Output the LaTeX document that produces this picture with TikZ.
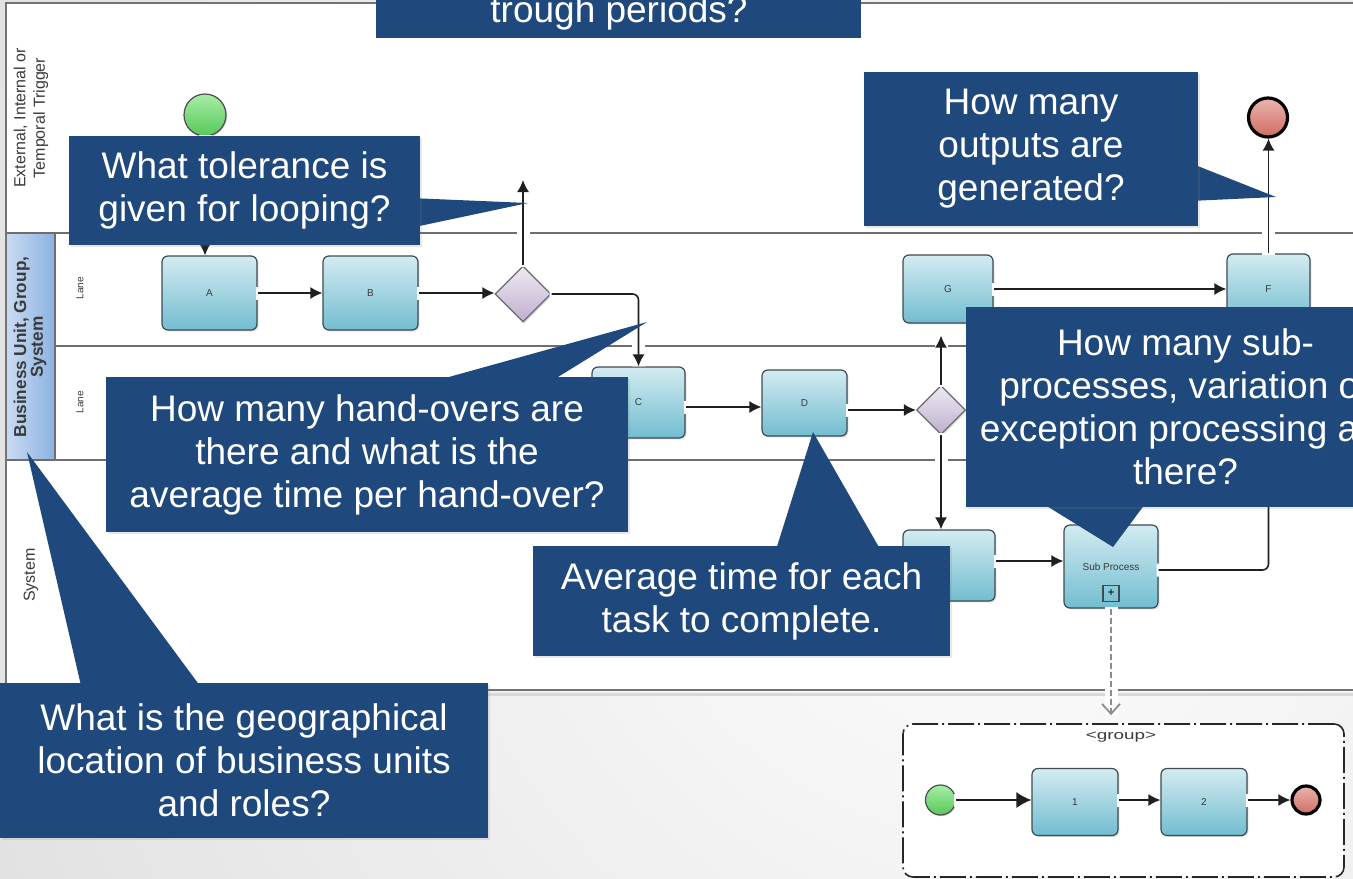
\documentclass[tikz,border=0pt]{standalone}
\usepackage{fontspec}
\setmainfont{Liberation Sans}
\usetikzlibrary{arrows.meta,shapes.geometric,shadows}

\definecolor{qblue}{HTML}{1F497D}
\definecolor{taskTop}{HTML}{D3EBF1}
\definecolor{taskBot}{HTML}{72BDD0}
\definecolor{taskLine}{HTML}{3E4B52}
\definecolor{gwTop}{HTML}{EEEAF4}
\definecolor{gwBot}{HTML}{BFAFCF}
\definecolor{startTop}{HTML}{A6EDA6}
\definecolor{startBot}{HTML}{58C858}
\definecolor{endTop}{HTML}{EAB4AE}
\definecolor{endBot}{HTML}{D06C64}
\definecolor{laneLine}{HTML}{6E6E6E}
\definecolor{hdrL}{HTML}{C9DBF2}
\definecolor{hdrR}{HTML}{8CB2E1}
\definecolor{labelGray}{HTML}{3A3A3A}

\tikzset{
  laneline/.style={draw=laneLine, line width=0.75pt},
  poolline/.style={draw=black!55, line width=1pt},
  task/.style={draw=taskLine, line width=0.6pt, rounded corners=3pt,
    top color=taskTop, bottom color=taskBot, inner sep=0pt,
    drop shadow={shadow xshift=0.7pt, shadow yshift=-0.7pt, opacity=0.3},
    font=\fontsize{5}{6}\selectfont, text=labelGray},
  gateway/.style={diamond, draw=black!58, line width=0.6pt, inner sep=0pt,
    top color=gwTop, bottom color=gwBot,
    drop shadow={shadow xshift=0.7pt, shadow yshift=-0.7pt, opacity=0.3}},
  startev/.style={circle, draw=black!70, line width=0.6pt, inner sep=0pt,
    top color=startTop, bottom color=startBot,
    drop shadow={shadow xshift=0.6pt, shadow yshift=-0.6pt, opacity=0.3}},
  endev/.style={circle, draw=black, line width=1.6pt, inner sep=0pt,
    top color=endTop, bottom color=endBot},
  halo/.style={draw=white, line width=6.5pt, shorten <=-1pt},
  flow/.style={draw=black!88, line width=0.8pt,
    -{Latex[length=6pt,width=6pt]}},
  bigflow/.style={flow, -{Latex[length=7.5pt,width=8pt]}},
  dashflow/.style={draw=black!45, line width=1pt, dash pattern=on 3pt off 1.5pt,
    -{Straight Barb[length=5pt,width=9pt,line width=0.9pt]}},
  lanelabel/.style={rotate=90, text=labelGray, align=center, inner sep=0pt},
  question/.style={fill=qblue, text=white, align=center, inner sep=0pt,
    font=\fontsize{18.5}{21.5}\selectfont,
    drop shadow={shadow xshift=0.8pt, shadow yshift=-0.8pt, opacity=0.18}},
  groupbox/.style={draw=black!85, line width=0.8pt, rounded corners=5pt,
    dash pattern=on 13pt off 2pt on 1pt off 2pt, fill=white}
}

% a sequence flow laid over a white halo that breaks the lines it crosses
\newcommand\seqflow[3][]{%
  \path[halo,#1] #3;
  \draw[#2,#1] #3;}

\begin{document}
\begin{tikzpicture}[x=0.5pt, y=-0.5pt]
\useasboundingbox (0,0) rectangle (1353,878);
\clip (0,0) rectangle (1353,878);

% backdrop
\fill[black!20] (0,0) rectangle (1353,878);
\shade[inner color=white, outer color=black!20] (1000,450) circle[radius=950pt];

% pool and lanes
\fill[white] (6,3) rectangle (1360,690);
\shade[left color=hdrL, right color=hdrR] (6,233) rectangle (55,460);
\draw[laneline] (55,233) -- (55,460);
\draw[laneline] (6,233) -- (1360,233);
\draw[laneline] (55,346) -- (1360,346);
\draw[laneline] (6,460) -- (1360,460);
\draw[black!15, line width=1.5pt] (6,694) -- (1360,694);
\draw[poolline] (1360,3) -- (6,3) -- (6,690) -- (1360,690);

\node[lanelabel, font=\fontsize{8}{9.8}\selectfont] (lblTrig) at (31,118)
  {External, Internal or\\Temporal Trigger};
\node[lanelabel, font=\fontsize{8.6}{8.4}\selectfont\bfseries] (lblBU) at (30,347)
  {Business Unit, Group,\\System};
\node[lanelabel, font=\fontsize{5}{6}\selectfont] (lblLane1) at (80,288) {Lane};
\node[lanelabel, font=\fontsize{5}{6}\selectfont] (lblLane2) at (80,402) {Lane};
\node[lanelabel, font=\fontsize{8}{9}\selectfont] (lblSys) at (31,575) {System};

% events, tasks and gateways
\node[startev, minimum size=21pt] (S) at (205,115) {};
\node[endev, minimum size=19.5pt] (En) at (1268,117.5) {};

\node[task, minimum width=47.5pt, minimum height=37pt] (A) at (209.5,293) {A};
\node[task, minimum width=47.5pt, minimum height=37pt] (B) at (370.5,293) {B};
\node[gateway, minimum size=28pt] (g1) at (523,294) {};
\node[task, minimum width=46.5pt, minimum height=35.5pt] (C) at (638.5,402.5) {C};
\node[task, minimum width=42.5pt, minimum height=33pt] (D) at (804.5,403) {D};
\node[gateway, minimum size=24.5pt] (g2) at (941,410) {};
\node[task, minimum width=45pt, minimum height=34pt] (G) at (948,289) {G};
\node[task, minimum width=41.5pt, minimum height=35pt] (F) at (1268.5,289) {F};
\node[task, minimum width=46pt, minimum height=35.5pt] (E) at (949,565.5) {};
\node[task, minimum width=47pt, minimum height=41.5pt] (SP) at (1111,566.5) {Sub Process};
\node[draw=taskLine, line width=0.6pt, minimum size=8pt, inner sep=0pt,
      font=\fontsize{6}{6}\selectfont] (SPmark) at (1111,593.5) {+};

\coordinate (up1) at (523,180);

% expanded sub-process group
\node[groupbox, minimum width=220.5pt, minimum height=76.5pt] (grp) at (1123.5,800.5) {};
\node[font=\fontsize{6.5}{7}\selectfont, text=labelGray, xscale=1.45] (grpLbl) at (1121,737) {<group>};
\node[startev, minimum size=15pt] (gS) at (940.5,800) {};
\node[endev, minimum size=14pt] (gE) at (1306,800) {};
\node[task, minimum width=43pt, minimum height=33.5pt] (T1) at (1075,802) {1};
\node[task, minimum width=43pt, minimum height=33.5pt] (T2) at (1204,802) {2};

% sequence flows
\seqflow{flow}{(S.south) -- (S.south |- A.north)}
\seqflow{flow}{(A) -- (B)}
\seqflow{flow}{(B) -- (B.east -| g1.west)}
\seqflow{flow}{(g1.north) -- (up1)}
\seqflow[rounded corners=3pt]{flow}{(g1.east) -| (C.north)}
\seqflow{flow}{(C.east |- 0,407) -- (D.west |- 0,407)}
\seqflow{flow}{(D.east |- g2.west) -- (g2.west)}
\seqflow[shorten >=6pt]{flow}{(g2.north) -- (g2.north |- G.south)}
\seqflow{flow}{(g2.south) -- (g2.south |- E.north)}
\seqflow{flow}{(E.east |- 0,561) -- (SP.west |- 0,561)}
\seqflow[rounded corners=3pt]{flow}{(SP.east |- 0,570) -| (F.south)}
\seqflow{flow}{(G.east) -- (G.east -| F.west)}
\seqflow{flow}{(F.north) -- (F.north |- En.south)}
\seqflow[shorten >=4pt]{dashflow}{(SP.south) -- (SP.south |- grp.north)}
\seqflow{bigflow}{(gS) -- (gS -| T1.west)}
\seqflow{flow}{(T1.east |- gS.east) -- (T2.west |- gS.east)}
\seqflow{flow}{(T2.east |- gE.west) -- (gE.west)}

% question callouts
\fill[qblue] (376,-30) rectangle (861,38);
\node[text=white, font=\fontsize{18.5}{21.5}\selectfont, anchor=base] (q1) at (619,22) {trough periods?};

\fill[qblue] (410,198) -- (528,203) -- (410,228) -- cycle;
\node[question, minimum width=175.5pt, minimum height=54.5pt] (q2) at (244.5,190.5)
  {What tolerance is\\given for looping?};

\fill[qblue] (1190,163) -- (1276,197) -- (1190,201) -- cycle;
\node[question, minimum width=167pt, minimum height=77pt] (q3) at (1031,149)
  {How many\\outputs are\\generated?};

\fill[qblue] (420,385) -- (647,322) -- (545,385) -- cycle;
\node[question, minimum width=261pt, minimum height=77.5pt] (q4) at (367,454.5)
  {How many hand-overs are\\there and what is the\\average time per hand-over?};

\fill[qblue] (774,556) -- (813,432) -- (884,556) -- cycle;
\node[question, minimum width=208.5pt, minimum height=55pt] (q5) at (741.5,601)
  {Average time for each\\task to complete.};

\fill[qblue] (1037,500) -- (1113,547) -- (1148,500) -- cycle;
\node[question, minimum width=219.5pt, minimum height=100pt] (q6) at (1185.5,407)
  {How many sub-\\processes, variation or\\exception processing are\\there?};

\fill[qblue] (82,690) -- (27,452) -- (203,690) -- cycle;
\node[question, minimum width=244pt, minimum height=77.5pt] (q7) at (244,760.5)
  {What is the geographical\\location of business units\\and roles?};
\end{tikzpicture}
\end{document}
